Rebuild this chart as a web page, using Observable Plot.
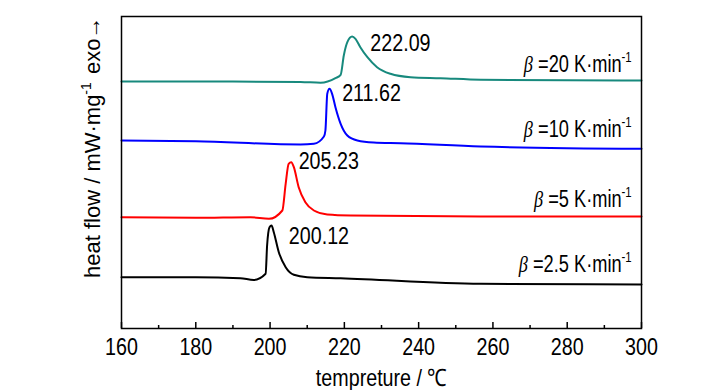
<!DOCTYPE html>
<html><head><meta charset="utf-8">
<script src="https://cdn.jsdelivr.net/npm/d3@7"></script>
<script src="https://cdn.jsdelivr.net/npm/@observablehq/plot@0.6"></script>
<style>
body{margin:0;background:#fff}
svg{font-family:"Liberation Sans",Arial,sans-serif}
</style>
</head><body><div id="chart"></div>
<script>
// temperature (°C) and relative heat flow (arbitrary units, offset per curve)
const t20 = [160,190,208.2,213.6,217.6,219.0,219.85,220.8,222.1,223.0,224.3,226.2,228.8,232.4,237.8,245.9,256.7,280,300];
const v20 = [24.70,24.69,24.66,24.57,25.03,25.37,27.30,28.63,29.20,28.97,28.13,27.13,26.13,25.47,25.13,25.03,24.87,24.82,24.80];
const t10 = [160,180,208.2,211.8,214.5,214.9,215.4,216.0,216.7,217.6,219.0,220.8,223.5,227.9,235.1,256.7,300];
const v10 = [18.80,18.73,18.40,18.47,19.20,19.80,23.47,23.97,23.47,22.13,20.47,19.30,18.80,18.60,18.53,18.20,17.97];
const t5 = [160,180,194.7,199.7,203.3,204.2,205.0,205.7,206.4,207.7,209.5,211.8,215.4,221.7,256.7,300];
const v5 = [11.13,11.07,11.13,10.97,11.80,14.47,16.47,16.63,16.13,14.13,12.63,11.80,11.40,11.30,11.20,11.20];
const t25 = [160,180,192.0,195.6,198.8,199.2,199.85,200.4,201.0,202.35,204.2,206.4,210.0,219.0,256.7,300];
const v25 = [5.13,5.13,5.03,4.85,5.47,8.30,10.13,10.30,9.63,7.63,6.13,5.37,5.13,5.03,4.47,4.40];

const seriesNames = ["20","10","5","2.5"];
const seriesColors = ["#17897d","#0000ff","#ff0000","#000000"];
const seriesT = [t20,t10,t5,t25];
const seriesV = [v20,v10,v5,v25];

const peakLabels = ["222.09","211.62","205.23","200.12"];
const peakLabelT = [227.0,219.4,207.7,205.05];
const peakLabelV = [27.8,22.8,16.0,8.5];

const rateLabelT = [297.5,297.5,297.5,297.5];
const rateLabelV = [25.65,19.13,12.13,5.63];

const majorTicks = [160,180,200,220,240,260,280,300];
const minorTicks = [170,190,210,230,250,270,290];

const FONT = '"Liberation Sans",Arial,sans-serif';
const FS = 24;
const SQUEEZE = 0.82;
const RATE_SQUEEZE = 0.76;

const rows = [];
seriesNames.forEach((s,i)=>seriesT[i].forEach((t,j)=>rows.push({s, T:t, v:seriesV[i][j]})));
const peaks = peakLabels.map((text,i)=>({text, T:peakLabelT[i], v:peakLabelV[i]}));

const plot = Plot.plot({
  width: 727, height: 390,
  marginLeft: 121, marginRight: 86, marginTop: 16, marginBottom: 62,
  style: {fontFamily: FONT, fontSize: FS + "px", color: "#000", background: "#fff"},
  x: {domain: [160,300]},
  y: {domain: [0,31.2], axis: null},
  color: {domain: seriesNames, range: seriesColors},
  marks: [
    Plot.tickX(majorTicks, {x: d=>d, insetTop: 306, stroke: "#000", strokeWidth: 1.5}),
    Plot.tickX(minorTicks, {x: d=>d, insetTop: 309, stroke: "#000", strokeWidth: 1.5}),
    Plot.axisX({ticks: majorTicks, tickSize: 0, tickPadding: 9, fontSize: FS,
      label: "tempreture / ℃", labelAnchor: "center", labelArrow: "none", labelOffset: 57}),
    Plot.line(rows, {x: "T", y: "v", z: "s", stroke: "s", strokeWidth: 2, curve: "monotone-x"}),
    Plot.text(peaks, {x: "T", y: "v", text: "text", textAnchor: "start", lineAnchor: "bottom", fontSize: FS, fill: "#000"}),
    Plot.frame({stroke: "#000", strokeWidth: 1.5})
  ]
});
document.getElementById("chart").appendChild(plot);

const svg = d3.select(plot);
// narrow the horizontal Plot texts to match the condensed look of the original
svg.selectAll("text").each(function(){
  const w = this.getComputedTextLength();
  if (w > 0) d3.select(this).attr("textLength", w*SQUEEZE).attr("lengthAdjust","spacingAndGlyphs");
});

const xs = plot.scale("x"), ys = plot.scale("y");
seriesNames.forEach((s,i)=>{
  const g = svg.append("g")
    .attr("transform", `translate(${xs.apply(rateLabelT[i])},${ys.apply(rateLabelV[i])}) scale(${RATE_SQUEEZE},1)`);
  const t = g.append("text").attr("text-anchor","end").attr("font-size",FS).attr("fill","#000");
  t.append("tspan").attr("font-family",'"Liberation Serif","Times New Roman",serif').attr("font-style","italic").text("β");
  t.append("tspan").text(" =" + s + " K·min");
  t.append("tspan").attr("font-size",15).attr("dy",-10).text("-1");
});

const yl = svg.append("text").attr("transform","translate(100,278) rotate(-90)")
  .attr("text-anchor","start").attr("font-size",22).attr("fill","#000");
yl.append("tspan").text("heat flow / mW·mg");
yl.append("tspan").attr("font-size",14).attr("dy",-9).text("-1");
svg.append("text").attr("transform","translate(100,74) rotate(-90)")
  .attr("text-anchor","start").attr("font-size",22).attr("fill","#000").text("exo→");
</script>
</body></html>
